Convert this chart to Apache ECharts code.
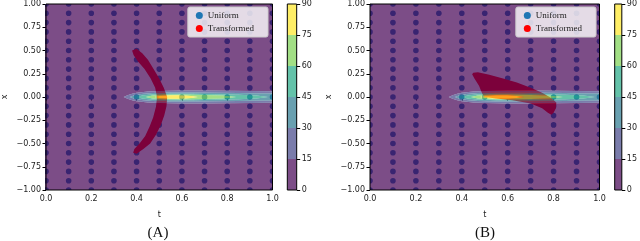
<!DOCTYPE html>
<html>
<head>
<meta charset="utf-8">
<script src="https://cdn.jsdelivr.net/npm/echarts@6/dist/echarts.min.js"></script>
<style>html,body{margin:0;padding:0;background:#fff}#c{width:640px;height:241px}</style>
</head>
<body>
<div id="c"></div>
<script>
// ---- data ----
const gridT = [0, 0.1, 0.2, 0.3, 0.4, 0.5, 0.6, 0.7, 0.8, 0.9, 1.0];
const gridX = [-1, -0.9, -0.8, -0.7, -0.6, -0.5, -0.4, -0.3, -0.2, -0.1, 0, 0.1, 0.2, 0.3, 0.4, 0.5, 0.6, 0.7, 0.8, 0.9, 1];
const levels = [0, 15, 30, 45, 60, 75, 90];
const bandColors = ['#440154', '#414487', '#2a788e', '#22a884', '#7ad151', '#fde725'];
// contour half-width profiles [t, half width in x] for levels 15,30,45,60,75
const contour15 = [[0.343,0],[0.36,0.02],[0.38,0.035],[0.40,0.045],[0.45,0.058],[0.5,0.065],[0.6,0.07],[0.7,0.07],[0.8,0.068],[0.9,0.065],[1.0,0.062],[1.08,0.06]];
const contour30 = [[0.37,0],[0.39,0.02],[0.42,0.032],[0.47,0.042],[0.55,0.048],[0.65,0.048],[0.75,0.045],[0.85,0.042],[0.95,0.038],[1.08,0.035]];
const contour45 = [[0.40,0],[0.43,0.018],[0.47,0.028],[0.55,0.035],[0.65,0.034],[0.75,0.03],[0.85,0.024],[0.93,0.015],[0.98,0]];
const contour60 = [[0.44,0],[0.47,0.015],[0.52,0.024],[0.6,0.026],[0.7,0.022],[0.78,0.015],[0.84,0]];
const contour75 = [[0.48,0],[0.5,0.012],[0.55,0.019],[0.6,0.018],[0.64,0.012],[0.67,0]];
// transformed point clouds (outline of the dense region), [t, x]
const transformedA = [[0.40,0.52],[0.425,0.47],[0.45,0.40],[0.475,0.30],[0.50,0.20],[0.52,0.10],[0.535,0.0],[0.532,-0.1],[0.522,-0.2],[0.507,-0.3],[0.487,-0.4],[0.46,-0.5],[0.43,-0.56],[0.40,-0.61],[0.385,-0.60],[0.39,-0.56],[0.413,-0.5],[0.438,-0.42],[0.457,-0.32],[0.473,-0.22],[0.486,-0.1],[0.49,0.0],[0.482,0.1],[0.462,0.2],[0.435,0.3],[0.407,0.38],[0.387,0.45],[0.38,0.50]];
const transformedB = [[0.45,0.26],[0.47,0.265],[0.52,0.24],[0.58,0.2],[0.64,0.155],[0.70,0.1],[0.75,0.045],[0.79,-0.01],[0.812,-0.06],[0.81,-0.12],[0.80,-0.17],[0.79,-0.19],[0.775,-0.17],[0.75,-0.12],[0.70,-0.07],[0.62,-0.035],[0.55,-0.015],[0.50,0.0],[0.49,0.03],[0.475,0.12],[0.455,0.2],[0.445,0.245]];
const panelNames = ['(A)', '(B)'];

// ---- helpers ----
const ALPHA = 0.7;
function rgba(hex, a) {
  const n = parseInt(hex.slice(1), 16);
  return 'rgba(' + (n >> 16) + ',' + ((n >> 8) & 255) + ',' + (n & 255) + ',' + a + ')';
}
const contours = [contour15, contour30, contour45, contour60, contour75];
const outerRect = [[-0.1,-1.1],[1.1,-1.1],[1.1,1.1],[-0.1,1.1]];
function profilePoly(p) {
  const up = p.map(d => [d[0], d[1]]);
  const lo = p.slice().reverse().map(d => [d[0], -d[1]]);
  return up.concat(lo);
}
function area(pts) {
  let s = 0;
  for (let i = 0; i < pts.length; i++) {
    const a = pts[i], b = pts[(i + 1) % pts.length];
    s += a[0] * b[1] - b[0] * a[1];
  }
  return s / 2;
}
function sub(api, poly, positive) {
  let pts = poly.map(d => api.coord(d));
  const ar = area(pts);
  if ((ar > 0) !== positive) pts = pts.reverse();
  return 'M' + pts.map(p => p[0].toFixed(2) + ' ' + p[1].toFixed(2)).join(' L') + ' Z ';
}
function contourRender(params, api) {
  const polys = [outerRect].concat(contours.map(profilePoly));
  const children = [];
  for (let k = 0; k < bandColors.length; k++) {
    let d = sub(api, polys[k], true);
    if (k + 1 < polys.length) d += sub(api, polys[k + 1], false);
    children.push({ type: 'path', shape: { pathData: d }, style: { fill: rgba(bandColors[k], ALPHA) } });
  }
  return { type: 'group', children: children };
}
function polyRender(poly) {
  return function (params, api) {
    return { type: 'polygon', shape: { points: poly.map(d => api.coord(d)) }, style: { fill: '#ff0000' } };
  };
}
function dotRender(params, api) {
  const p = api.coord([api.value(0), api.value(1)]);
  return { type: 'circle', shape: { cx: p[0], cy: p[1], r: 2.8 }, style: { fill: '#1f77b4' } };
}
const uniformPts = [];
gridT.forEach(t => gridX.forEach(x => uniformPts.push([t, x])));

const font = 'DejaVu Sans';
const mainLeft = [43, 370];
const cbLeft = [287.3, 614.7];
const legendRight = [372, 44];
const polysT = [transformedA, transformedB];

const grids = [], xAxes = [], yAxes = [], series = [], legends = [], graphics = [];
for (let i = 0; i < 2; i++) {
  grids.push({ left: mainLeft[i], top: 3, width: 229.5, height: 187, show: true, z: 6,
    backgroundColor: 'transparent', borderColor: '#000', borderWidth: 1 });
  grids.push({ left: cbLeft[i], top: 3, width: 9.4, height: 187, show: true, z: 6,
    backgroundColor: 'transparent', borderColor: '#000', borderWidth: 1 });
  const gi = i * 2;
  xAxes.push({ type: 'value', gridIndex: gi, min: 0, max: 1, interval: 0.2,
    name: 't', nameLocation: 'middle', nameGap: 21,
    nameTextStyle: { fontFamily: font, fontSize: 8, color: '#222' },
    splitLine: { show: false }, axisLine: { show: false },
    axisTick: { show: true, length: 3.5, lineStyle: { color: '#000' } },
    axisLabel: { fontFamily: font, fontSize: 8, color: '#222', margin: 5,
      formatter: v => v.toFixed(1) } });
  yAxes.push({ type: 'value', gridIndex: gi, min: -1, max: 1, interval: 0.25,
    name: 'x', nameLocation: 'middle', nameGap: 37,
    nameTextStyle: { fontFamily: font, fontSize: 8, color: '#222' },
    splitLine: { show: false }, axisLine: { show: false },
    axisTick: { show: true, length: 3.5, lineStyle: { color: '#000' } },
    axisLabel: { fontFamily: font, fontSize: 8, color: '#222', margin: 5,
      formatter: v => v.toFixed(2).replace('-', '\u2212') } });
  xAxes.push({ type: 'category', gridIndex: gi + 1, data: ['cb'], show: false });
  yAxes.push({ type: 'value', gridIndex: gi + 1, min: levels[0], max: levels[levels.length - 1],
    interval: 15, position: 'right', splitLine: { show: false }, axisLine: { show: false },
    axisTick: { show: true, length: 3.5, lineStyle: { color: '#000' } },
    axisLabel: { fontFamily: font, fontSize: 8, color: '#222', margin: 5 } });

  series.push({ type: 'custom', name: 'Uniform', xAxisIndex: gi, yAxisIndex: gi,
    data: uniformPts, renderItem: dotRender, itemStyle: { color: '#1f77b4' },
    clip: true, z: 1, silent: true, animation: false });
  series.push({ type: 'custom', name: 'Transformed', xAxisIndex: gi, yAxisIndex: gi,
    data: [[0.5, 0]], renderItem: polyRender(polysT[i]), itemStyle: { color: '#ff0000' },
    clip: true, z: 2, silent: true, animation: false });
  series.push({ type: 'custom', name: 'contour' + i, xAxisIndex: gi, yAxisIndex: gi,
    data: [[0.5, 0]], renderItem: contourRender, clip: true, z: 3, silent: true, animation: false });
  for (let k = 0; k < bandColors.length; k++) {
    series.push({ type: 'bar', name: 'cb' + i + '_' + k, xAxisIndex: gi + 1, yAxisIndex: gi + 1,
      stack: 'cb' + i, data: [levels[k + 1] - levels[k]], barWidth: '100%',
      itemStyle: { color: rgba(bandColors[k], ALPHA) }, silent: true, animation: false });
  }
  legends.push({ orient: 'vertical', right: legendRight[i], top: 7,
    data: [{ name: 'Uniform', icon: 'circle' }, { name: 'Transformed', icon: 'circle' }],
    itemWidth: 7, itemHeight: 7, itemGap: 4,
    padding: [4, 14, 4, 8],
    backgroundColor: 'rgba(255,255,255,0.8)', borderColor: '#cccccc', borderWidth: 1, borderRadius: 2,
    textStyle: { fontFamily: 'Liberation Serif', fontSize: 9, color: '#222' },
    selectedMode: false, z: 10 });
  graphics.push({ type: 'text', x: mainLeft[i] + 115, y: 233,
    style: { text: panelNames[i], font: '15px "Liberation Serif"', fill: '#111',
      textAlign: 'center', textVerticalAlign: 'middle' } });
}

const chart = echarts.init(document.getElementById('c'), null, { renderer: 'canvas' });
chart.setOption({
  animation: false,
  grid: grids, xAxis: xAxes, yAxis: yAxes, series: series, legend: legends,
  graphic: graphics
});
</script>
</body>
</html>
